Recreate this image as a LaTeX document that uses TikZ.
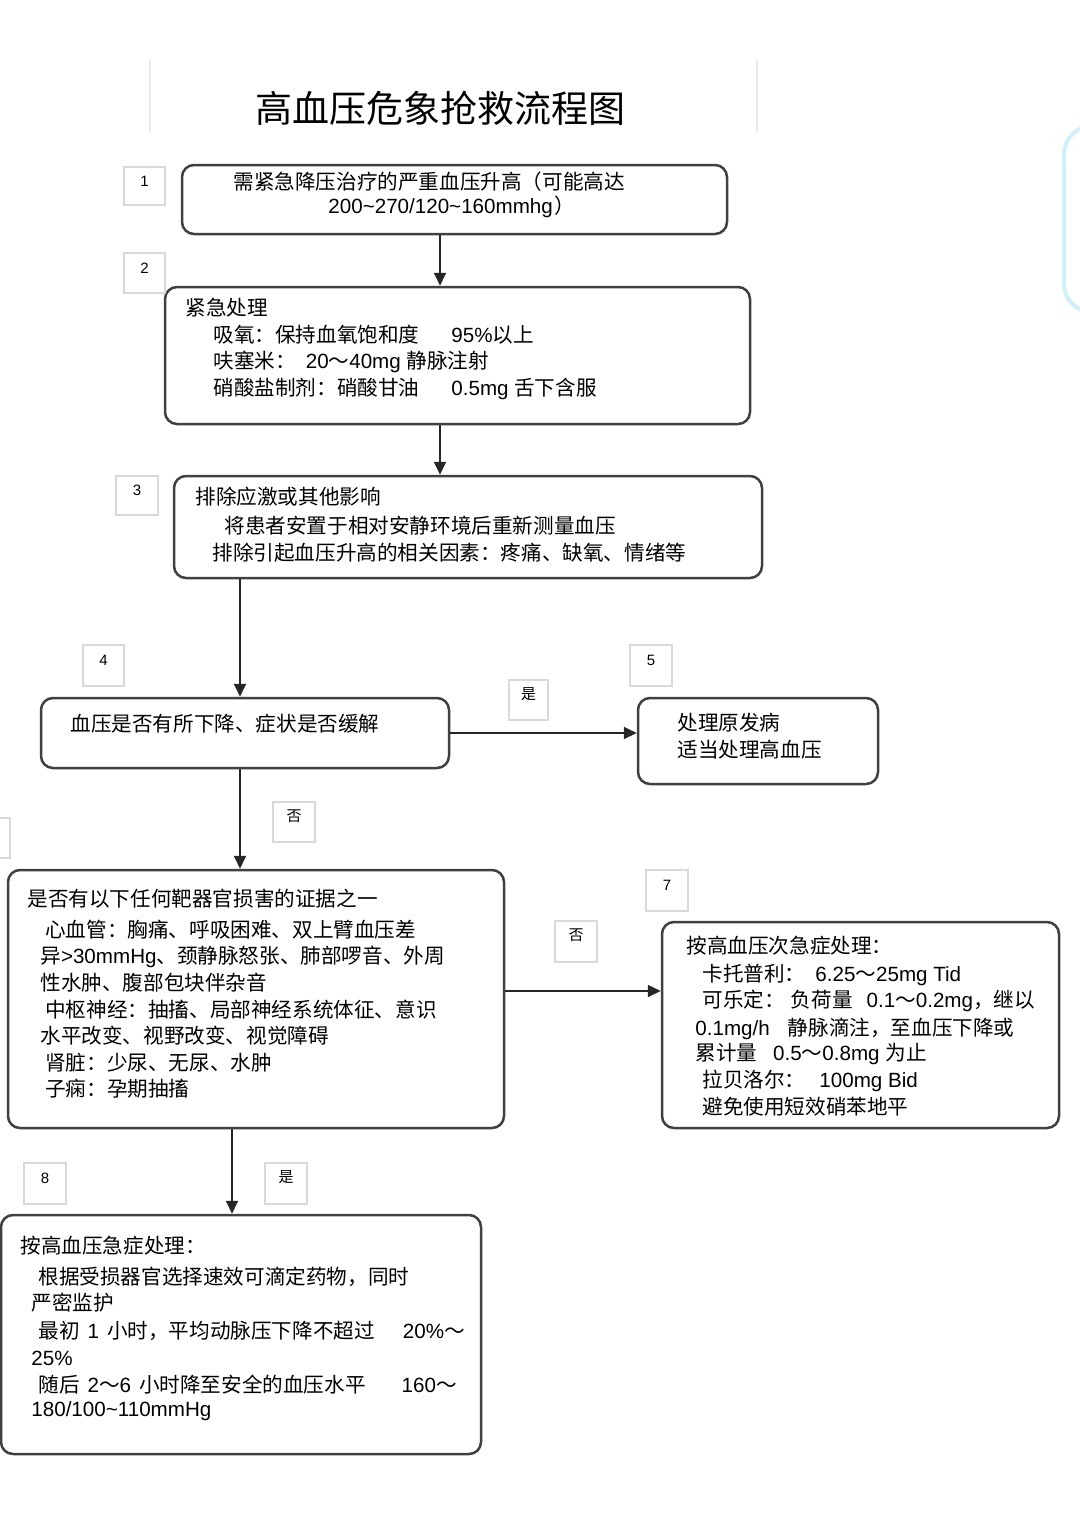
\documentclass[tikz,border=0pt]{standalone}
\usepackage{fontspec}
\setmainfont{Liberation Sans}
\newfontfamily\cjkfont{Noto Sans CJK SC}
\newfontfamily\latfont{Liberation Sans}
\usetikzlibrary{arrows.meta,fit}
\XeTeXinterchartokenstate=1
\newXeTeXintercharclass\CJKcls
\newcount\mycnt
\mycnt="3000 \loop \XeTeXcharclass\mycnt=\CJKcls \ifnum\mycnt<"303F \advance\mycnt by 1 \repeat
\mycnt="4E00 \loop \XeTeXcharclass\mycnt=\CJKcls \ifnum\mycnt<"9FFF \advance\mycnt by 1 \repeat
\mycnt="FF00 \loop \XeTeXcharclass\mycnt=\CJKcls \ifnum\mycnt<"FFEF \advance\mycnt by 1 \repeat
\XeTeXinterchartoks 0 \CJKcls = {\cjkfont}
\XeTeXinterchartoks 4095 \CJKcls = {\cjkfont}
\XeTeXinterchartoks \CJKcls 0 = {\latfont}
\XeTeXinterchartoks \CJKcls 4095 = {\latfont}
\newcommand\tld{{\char"7E}}
\begin{document}
\begin{tikzpicture}[x=0.5pt,y=-0.5pt,
  box/.style={draw=black!75, line width=1.25pt, rounded corners=6pt, inner sep=0pt, fill=white},
  lbl/.style={draw=black!15, line width=0.7pt, fill=white, inner sep=0pt, font=\fontsize{7.5}{9}\selectfont},
  txt/.style={anchor=west, inner sep=0pt, font=\fontsize{10.3}{12}\selectfont},
  arr/.style={-{Triangle[width=6pt,length=6.5pt]}, line width=0.9pt, draw=black!85},
  faint/.style={draw=black!8, line width=0.6pt}]
\useasboundingbox (0,0) rectangle (1080,1525);
\clip (0,0) rectangle (1080,1525);
% decorations
\draw[faint] (150,60) -- (150,132);
\draw[faint] (757,60) -- (757,132);
\draw[draw=cyan!18, line width=2pt, rounded corners=14pt] (1064,126) rectangle (1140,312);
\draw[draw=black!15, line width=0.7pt] (-30,818) rectangle (10,858);
% title
\node[inner sep=0pt, font=\fontsize{18.5}{22}\selectfont] (title) at (440,108) {高血压危象抢救流程图};
% boxes
\node[box, fit={(182,165) (727,234)}] (b1) {};
\node[box, fit={(165,287) (750,424)}] (b2) {};
\node[box, fit={(174,476) (762,578)}] (b3) {};
\node[box, fit={(41,698) (449,768)}] (b4) {};
\node[box, fit={(638,698) (878,784)}] (b5) {};
\node[box, fit={(8,870) (504,1128)}] (b6) {};
\node[box, fit={(662,922) (1059,1128)}] (b7) {};
\node[box, fit={(1,1215) (481,1454)}] (b8) {};
% labels
\node[lbl, fit={(124,167) (165,205)}] (l1) {1};
\node[lbl, fit={(124,253) (165,293)}] (l2) {2};
\node[lbl, fit={(116,476) (158,515)}] (l3) {3};
\node[lbl, fit={(83,645) (124,686)}] (l4) {4};
\node[lbl, fit={(509,680) (548,720)}] (lyes1) {是};
\node[lbl, fit={(630,645) (672,686)}] (l5) {5};
\node[lbl, fit={(273,802) (315,842)}] (lno1) {否};
\node[lbl, fit={(555,921) (597,962)}] (lno2) {否};
\node[lbl, fit={(646,870) (688,911)}] (l7) {7};
\node[lbl, fit={(24,1163) (66,1204)}] (l8) {8};
\node[lbl, fit={(265,1163) (307,1204)}] (lyes2) {是};
% texts box1
\node[txt] (t11) at (233,182) {需紧急降压治疗的严重血压升高（可能高达};
\node[txt] (t12) at (328,207) {200\tld270/120\tld160mmhg\hspace{1pt}）};
% box2
\node[txt] (t21) at (185,308) {紧急处理};
\node[txt] (t22) at (213,335) {吸氧：保持血氧饱和度\hspace{16pt}95\%以上};
\node[txt] (t23) at (213,362) {呋塞米：\hspace{5pt}20～40mg 静脉注射};
\node[txt] (t24) at (213,389) {硝酸盐制剂：硝酸甘油\hspace{16pt}0.5mg 舌下含服};
% box3
\node[txt] (t31) at (195,497) {排除应激或其他影响};
\node[txt] (t32) at (224,526) {将患者安置于相对安静环境后重新测量血压};
\node[txt] (t33) at (212,553) {排除引起血压升高的相关因素：疼痛、缺氧、情绪等};
% box4
\node[txt] (t41) at (70,724) {血压是否有所下降、症状是否缓解};
% box5
\node[txt] (t51) at (677,723) {处理原发病};
\node[txt] (t52) at (677,750) {适当处理高血压};
% box6
\node[txt] (t61) at (27,899) {是否有以下任何靶器官损害的证据之一};
\node[txt] (t62) at (45,930) {心血管：胸痛、呼吸困难、双上臂血压差};
\node[txt] (t63) at (40,957) {异>30mmHg、颈静脉怒张、肺部啰音、外周};
\node[txt] (t64) at (40,983) {性水肿、腹部包块伴杂音};
\node[txt] (t65) at (45,1010) {中枢神经：抽搐、局部神经系统体征、意识};
\node[txt] (t66) at (40,1036) {水平改变、视野改变、视觉障碍};
\node[txt] (t67) at (45,1063) {肾脏：少尿、无尿、水肿};
\node[txt] (t68) at (45,1089) {子痫：孕期抽搐};
% box7
\node[txt] (t71) at (686,946) {按高血压次急症处理：};
\node[txt] (t72) at (702,975) {卡托普利：\hspace{5pt}6.25～25mg Tid};
\node[txt] (t73) at (702,1001) {可乐定：\hspace{3pt}负荷量\hspace{7pt}0.1～0.2mg，继以};
\node[txt] (t74) at (695,1029) {0.1mg/h\hspace{9pt}静脉滴注，至血压下降或};
\node[txt] (t75) at (695,1054) {累计量\hspace{8pt}0.5～0.8mg 为止};
\node[txt] (t76) at (702,1081) {拉贝洛尔：\hspace{7pt}100mg Bid};
\node[txt] (t77) at (702,1107) {避免使用短效硝苯地平};
% box8
\node[txt] (t81) at (20,1246) {按高血压急症处理：};
\node[txt] (t82) at (38,1277) {根据受损器官选择速效可滴定药物，同时};
\node[txt] (t83) at (31,1303) {严密监护};
\node[txt] (t84) at (38,1331) {最初\hspace{4pt}1\hspace{4pt}小时，平均动脉压下降不超过\hspace{14pt}20\%～};
\node[txt] (t85) at (31,1358) {25\%};
\node[txt] (t86) at (38,1385) {随后\hspace{4pt}2～6\hspace{4pt}小时降至安全的血压水平\hspace{18pt}160～};
\node[txt] (t87) at (31,1411) {180/100\tld110mmHg};
% connectors
\draw[arr] (440,0 |- b1.south) -- (440,0 |- b2.north);
\draw[arr] (440,0 |- b2.south) -- (440,0 |- b3.north);
\draw[arr] (240,0 |- b3.south) -- (240,0 |- b4.north);
\draw[arr] (b4.east) -- (b4.east -| b5.west);
\draw[arr] (240,0 |- b4.south) -- (240,0 |- b6.north);
\draw[arr] (b6.east |- 0,991) -- (b7.west |- 0,991);
\draw[arr] (232,0 |- b6.south) -- (232,0 |- b8.north);
\end{tikzpicture}
\end{document}
